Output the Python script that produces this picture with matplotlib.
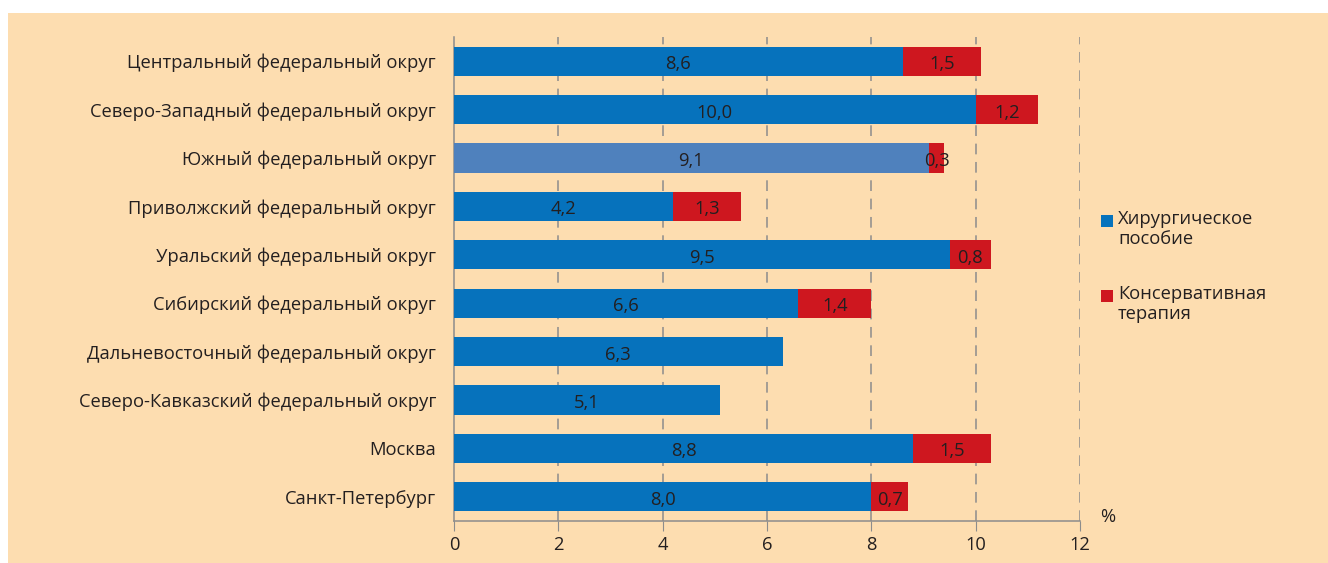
import matplotlib.pyplot as plt
from matplotlib.patches import Rectangle

plt.rcParams["font.family"] = ["Open Sans", "DejaVu Sans"]

regions = [
    "Центральный федеральный округ",
    "Северо-Западный федеральный округ",
    "Южный федеральный округ",
    "Приволжский федеральный округ",
    "Уральский федеральный округ",
    "Сибирский федеральный округ",
    "Дальневосточный федеральный округ",
    "Северо-Кавказский федеральный округ",
    "Москва",
    "Санкт-Петербург",
]
surgery = [8.6, 10.0, 9.1, 4.2, 9.5, 6.6, 6.3, 5.1, 8.8, 8.0]
conservative = [1.5, 1.2, 0.3, 1.3, 0.8, 1.4, 0.0, 0.0, 1.5, 0.7]
legend_labels = ["Хирургическое\nпособие", "Консервативная\nтерапия"]
x_ticks = [0, 2, 4, 6, 8, 10, 12]

BG = "#FDDDB0"
BLUE = "#0672BC"
BLUE_LIGHT = "#4F81BD"
RED = "#CE171F"
GRID = "#8C8C8C"
TXT = "#231F20"
FS = 13.2

fig = plt.figure(figsize=(13.28, 5.63), dpi=100, facecolor="white")
fig.patches.append(Rectangle((8 / 1328, 0), 1 - 8 / 1328, 1 - 13 / 563,
                             transform=fig.transFigure, facecolor=BG,
                             edgecolor="none", zorder=-10))

ax = fig.add_axes([454 / 1328, 1 - 521 / 563, (1080 - 454) / 1328, (521 - 37) / 563])
ax.set_facecolor("none")

y = list(range(len(regions)))
blue_colors = [BLUE_LIGHT if r.startswith("Южный") else BLUE for r in regions]
ax.barh(y, surgery, height=0.6, color=blue_colors, zorder=3)
ax.barh(y, conservative, left=surgery, height=0.6, color=RED, zorder=3)

for i, (s, c) in enumerate(zip(surgery, conservative)):
    ax.text(s / 2, i + 0.06, f"{s:.1f}".replace(".", ","), ha="center", va="center",
            fontsize=FS, color=TXT, zorder=4)
    if c > 0:
        ax.text(s + c / 2, i + 0.06, f"{c:.1f}".replace(".", ","), ha="center", va="center",
                fontsize=FS, color=TXT, zorder=4)

ax.set_ylim(len(regions) - 0.5, -0.5)
ax.set_xlim(0, 12)
ax.set_yticks(y)
ax.set_yticklabels(regions, fontsize=FS, color=TXT)
ax.tick_params(axis="y", length=0, pad=13)
ax.set_xticks(x_ticks)
ax.set_xticklabels([str(t) for t in x_ticks], fontsize=FS, color=TXT)
ax.tick_params(axis="x", direction="out", length=7, color=GRID, pad=4)

for t in x_ticks[1:]:
    ax.axvline(t, color=GRID, linestyle=(0, (7, 5)), linewidth=1.1, zorder=1)

for side in ["top", "right"]:
    ax.spines[side].set_visible(False)
for side in ["left", "bottom"]:
    ax.spines[side].set_color(GRID)
    ax.spines[side].set_linewidth(1.1)

fig.text(1108 / 1328, 1 - 517 / 563, "%", fontsize=FS, color=TXT,
         ha="center", va="center")

# legend drawn by hand: square marker aligned with the first text line
for (label, color), ytop in zip(zip(legend_labels, [BLUE, RED]), [210, 285]):
    fig.patches.append(Rectangle((1101 / 1328, 1 - (ytop + 17) / 563), 12 / 1328, 12 / 563,
                                 transform=fig.transFigure, facecolor=color,
                                 edgecolor="none"))
    fig.text(1118 / 1328, 1 - ytop / 563, label, fontsize=FS, color=TXT,
             ha="left", va="top", linespacing=1.15)

fig.savefig("out.png", dpi=100, facecolor="white")
